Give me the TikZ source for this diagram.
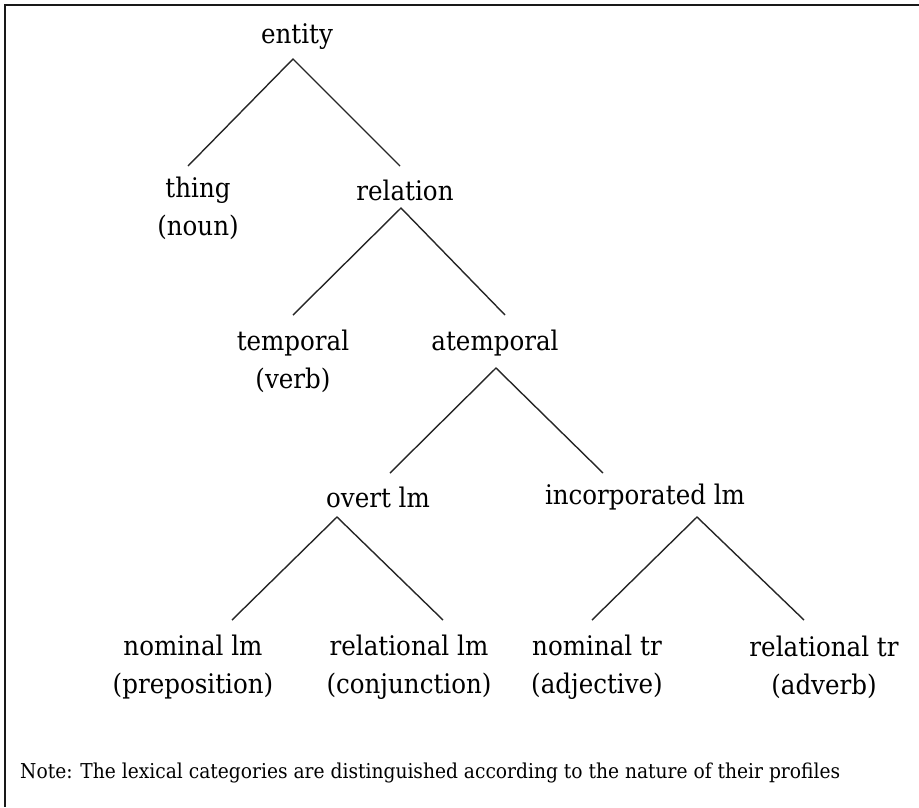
\documentclass[tikz,border=0pt]{standalone}
\usepackage{fontspec}
\setmainfont{DejaVu Serif}[FakeStretch=0.91]
\begin{document}
\begin{tikzpicture}[x=1pt,y=-1pt,
    label/.style={inner sep=0pt, align=center, font=\fontsize{27}{38}\selectfont},
    note/.style={inner sep=0pt, anchor=west, font=\fontsize{20.5}{24}\selectfont},
    branch/.style={line width=1.4pt, draw=black!85},
    frame/.style={line width=1.8pt, draw=black!90}]
  \useasboundingbox (0,0) rectangle (919,807);
  % open frame: top and left edges only
  \coordinate (fcorner) at (5,5);
  \coordinate (fright) at (919,5);
  \coordinate (fbottom) at (5,807);
  \draw[frame] (fright) -- (fcorner) -- (fbottom);

  % category labels
  \node[label] (entity) at (297,37) {entity};
  \node[label] (thing) at (198,208) {thing\\(noun)};
  \node[label] (relation) at (405,190) {relation};
  \node[label] (temporal) at (293,361) {temporal\\(verb)};
  \node[label] (atemporal) at (495,343) {atemporal};
  \node[label] (overt) at (378,497) {overt lm};
  \node[label] (incorp) at (645,497) {incorporated lm};
  \node[label] (nomlm) at (193,667) {nominal lm\\(preposition)};
  \node[label] (rellm) at (409,667) {relational lm\\(conjunction)};
  \node[label] (nomtr) at (597,667) {nominal tr\\(adjective)};
  \node[label] (reltr) at (824,667) {relational tr\\(adverb)};
  \node[note] (note) at (20,773) {Note: The lexical categories are distinguished according to the nature of their profiles};

  % branch points
  \coordinate (entity-apex) at (293,59);
  \coordinate (entity-l) at (188,166);
  \coordinate (entity-r) at (400,166);
  \coordinate (relation-apex) at (401,208);
  \coordinate (relation-l) at (293,315);
  \coordinate (relation-r) at (505,315);
  \coordinate (atemporal-apex) at (496,368);
  \coordinate (atemporal-l) at (390,473);
  \coordinate (atemporal-r) at (603,473);
  \coordinate (overt-apex) at (337,517);
  \coordinate (overt-l) at (232,620);
  \coordinate (overt-r) at (443,620);
  \coordinate (incorp-apex) at (697,517);
  \coordinate (incorp-l) at (592,620);
  \coordinate (incorp-r) at (804,620);

  % branches
  \draw[branch] (entity-l) -- (entity-apex) -- (entity-r);
  \draw[branch] (relation-l) -- (relation-apex) -- (relation-r);
  \draw[branch] (atemporal-l) -- (atemporal-apex) -- (atemporal-r);
  \draw[branch] (overt-l) -- (overt-apex) -- (overt-r);
  \draw[branch] (incorp-l) -- (incorp-apex) -- (incorp-r);
\end{tikzpicture}
\end{document}
